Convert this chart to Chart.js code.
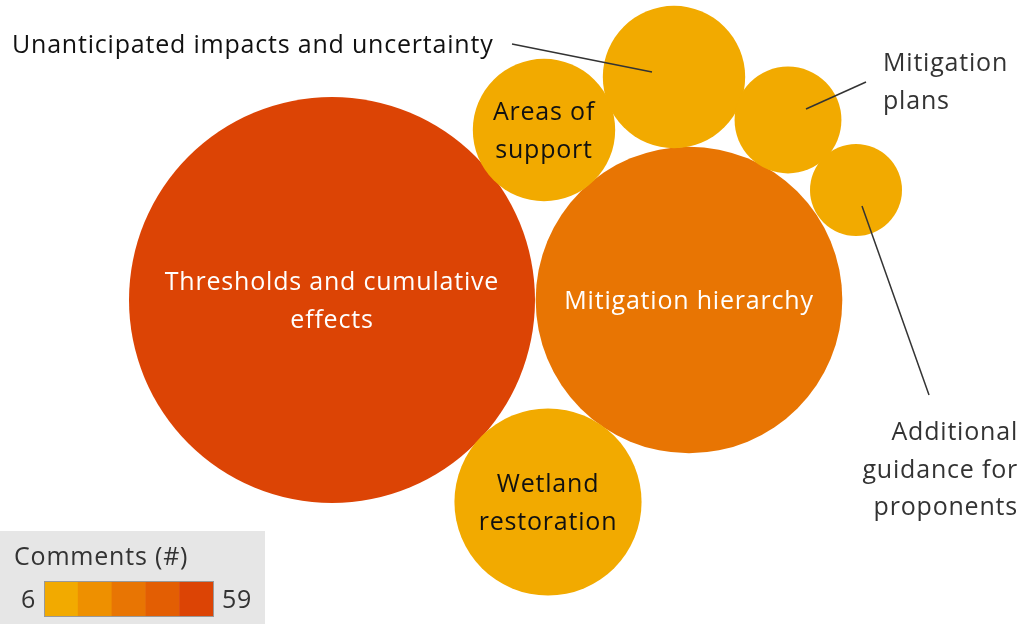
<!DOCTYPE html>
<html>
<head>
<meta charset="utf-8">
<script src="https://cdn.jsdelivr.net/npm/chart.js@4"></script>
<style>
  html, body { margin: 0; padding: 0; background: #fff; }
  #wrap { width: 1023px; height: 624px; position: relative; }
</style>
</head>
<body>
<div id="wrap"><canvas id="bubbles"></canvas></div>
<script>
// topics, comment counts and packed positions (layout units)
var topics = ['Thresholds and cumulative effects', 'Mitigation hierarchy', 'Wetland restoration',
  'Areas of support', 'Unanticipated impacts and uncertainty', 'Mitigation plans',
  'Additional guidance for proponents'];
var comments = [59, 35, 15, 10, 10, 7, 6];
var posX = [332, 689, 548, 544, 674, 788, 856];
var posY = [300, 300, 502, 130, 77, 120, 190];

var legendMin = 6, legendMax = 59;
var binColors = ['#F2AA00', '#EE9000', '#E87503', '#E35E03', '#DC4405'];

var FONT = '"Open Sans", Lato, sans-serif';

// radius from count: area grows linearly between the smallest and largest bubble
function radius(n) {
    var rMin = 46, rMax = 203;
    var t = (n - legendMin) / (legendMax - legendMin);
    return Math.sqrt(rMin * rMin + t * (rMax * rMax - rMin * rMin));
}
function colorFor(n) {
    var i = Math.floor((n - legendMin) / (legendMax - legendMin) * binColors.length);
    if (i >= binColors.length) i = binColors.length - 1;
    return binColors[i];
}

// label layout: lines, inside or outside, and leader line ends
var labels = [
    { lines: ['Thresholds and cumulative', 'effects'], color: '#fff', inside: true },
    { lines: ['Mitigation hierarchy'], color: '#fff', inside: true },
    { lines: ['Wetland', 'restoration'], color: '#111', inside: true },
    { lines: ['Areas of', 'support'], color: '#111', inside: true },
    { lines: ['Unanticipated impacts and uncertainty'], color: '#111', inside: false,
      tx: 12, ty: 44, align: 'left', lead: [[512, 44], [652, 72]] },
    { lines: ['Mitigation', 'plans'], color: '#333', inside: false,
      tx: 883, ty: 62, align: 'left', lead: [[866, 82], [806, 109]] },
    { lines: ['Additional', 'guidance for', 'proponents'], color: '#333', inside: false,
      tx: 1018, ty: 431, align: 'right', lead: [[862, 206], [929, 395]] }
];

var bubbleData = topics.map(function(t, i) {
    return { x: posX[i], y: posY[i], r: radius(comments[i]), n: comments[i] };
});

var labelPlugin = {
    id: 'labelPlugin',
    afterDatasetsDraw: function(chart) {
        var ctx = chart.ctx;
        var xs = chart.scales.x, ys = chart.scales.y;
        ctx.save();
        ctx.font = '25px ' + FONT;
        ctx.letterSpacing = '0.8px';
        ctx.textBaseline = 'middle';
        var dy = 2;
        labels.forEach(function(lb, i) {
            var lh = 37.5;
            if (lb.inside) {
                var cx = xs.getPixelForValue(posX[i]), cy = ys.getPixelForValue(posY[i]);
                ctx.fillStyle = lb.color;
                ctx.textAlign = 'center';
                var y0 = cy - (lb.lines.length - 1) * lh / 2 + dy;
                lb.lines.forEach(function(s, k) { ctx.fillText(s, cx, y0 + k * lh); });
            } else {
                ctx.strokeStyle = '#333';
                ctx.lineWidth = 1.5;
                ctx.beginPath();
                ctx.moveTo(xs.getPixelForValue(lb.lead[0][0]), ys.getPixelForValue(lb.lead[0][1]));
                ctx.lineTo(xs.getPixelForValue(lb.lead[1][0]), ys.getPixelForValue(lb.lead[1][1]));
                ctx.stroke();
                ctx.fillStyle = lb.color;
                ctx.textAlign = lb.align;
                lb.lines.forEach(function(s, k) {
                    ctx.fillText(s, xs.getPixelForValue(lb.tx), ys.getPixelForValue(lb.ty) + dy + k * lh);
                });
            }
        });

        // colour legend
        ctx.fillStyle = '#e6e6e6';
        ctx.fillRect(0, 531, 265, 93);
        ctx.fillStyle = '#333';
        ctx.textAlign = 'left';
        ctx.fillText('Comments (#)', 14, 556 + dy);
        ctx.fillText(String(legendMin), 21, 599 + dy);
        ctx.fillText(String(legendMax), 222, 599 + dy);
        var sx = 44, sw = 169 / binColors.length;
        binColors.forEach(function(c, k) {
            ctx.fillStyle = c;
            ctx.fillRect(sx + k * sw, 581, sw + 0.5, 35);
        });
        ctx.strokeStyle = '#999';
        ctx.lineWidth = 1;
        ctx.strokeRect(44.5, 581.5, 169, 35);
        ctx.restore();
    }
};

var ctx = document.getElementById('bubbles').getContext('2d');
var chart = new Chart(ctx, {
    type: 'bubble',
    data: {
        datasets: [{
            label: 'Comments',
            data: bubbleData,
            backgroundColor: bubbleData.map(function(d) { return colorFor(d.n); }),
            borderWidth: 0,
            hoverRadius: 0
        }]
    },
    options: {
        responsive: true,
        maintainAspectRatio: false,
        animation: false,
        layout: { padding: 0, autoPadding: false },
        scales: {
            x: { type: 'linear', display: false, min: 0, max: 1023 },
            y: { type: 'linear', display: false, min: 0, max: 624, reverse: true }
        },
        plugins: {
            legend: { display: false },
            tooltip: { enabled: false }
        }
    },
    plugins: [labelPlugin]
});
</script>
</body>
</html>
